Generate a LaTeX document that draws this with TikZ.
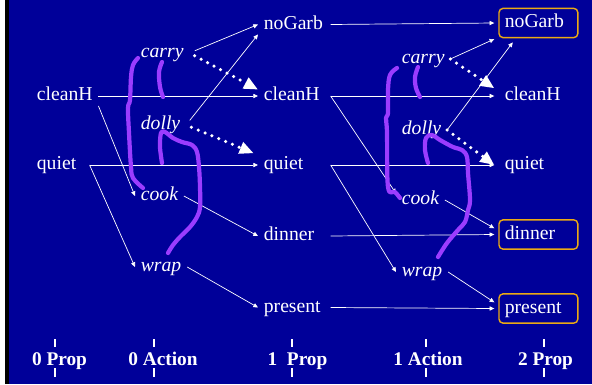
\documentclass[tikz,border=0pt]{standalone}
\usepackage{fontspec}
\setmainfont{Liberation Serif}
\newfontfamily\slidefont{Liberation Serif}
\usepackage{xcolor}
\usetikzlibrary{arrows.meta}
\definecolor{slidebg}{RGB}{0,0,153}
\definecolor{mutexpurple}{RGB}{155,60,255}
\definecolor{goalgold}{RGB}{235,170,20}

\begin{document}
\begin{tikzpicture}[x=0.03cm,y=-0.03cm,
  every node/.style={text=white,font={\slidefont\fontsize{16.8}{20}\selectfont},anchor=west,
    inner xsep=5pt,inner ysep=1pt,outer sep=0pt,text height=11.5pt,text depth=3.5pt},
  act/.style={font={\slidefont\fontsize{16.8}{20}\selectfont\itshape}},
  prop1/.style={text width=52pt,align=left},
  goal/.style={text width=57.3pt,align=left,inner ysep=5pt,outer sep=4pt,rounded corners=3.5pt},
  goalbox/.style={goal,draw=goalgold,line width=1.2pt},
  link/.style={draw=white,line width=0.6pt,-{Triangle[length=4pt,width=3.6pt]}},
  bump/.style={draw=white,line width=3pt,line cap=round,dash pattern=on 0pt off 6.3pt,
    -{Triangle[length=12pt,width=10pt]}},
  mutex/.style={draw=mutexpurple,line width=3.6pt,line cap=round,line join=round},
  level/.style={font={\slidefont\fontsize{16.5}{20}\selectfont\bfseries},anchor=base},
  tick/.style={draw=white,line width=1.7pt}]
\useasboundingbox (0,0) rectangle (592,384);
\fill[white] (0,0) rectangle (592,384);
\fill[black] (5,0) rectangle (9,384);
\fill[slidebg] (9,0) rectangle (592,384);

\node (cleanH0) at (31,96) {cleanH};
\node[text width=40pt,align=left] (quiet0) at (31,165) {quiet};
\node[act] (carry0) at (135,53) {carry};
\node[act] (dolly0) at (135,125) {dolly};
\node[act] (cook0) at (135,196) {cook};
\node[act] (wrap0) at (135,267) {wrap};
\node[prop1] (noGarb1) at (258,24.5) {noGarb};
\node[prop1] (cleanH1) at (258,96) {cleanH};
\node[prop1] (quiet1) at (258,165) {quiet};
\node[prop1] (dinner1) at (258,236) {dinner};
\node[prop1] (present1) at (258,307.5) {present};
\node[act] (carry1) at (396,59) {carry};
\node[act] (dolly1) at (396,130) {dolly};
\node[act] (cook1) at (396,200) {cook};
\node[act] (wrap1) at (396,272) {wrap};
\node[goalbox] (noGarb2) at (494.3,23) {noGarb};
\node[goal] (cleanH2) at (494.3,96) {cleanH};
\node[goal] (quiet2) at (494.3,165) {quiet};
\node[goalbox] (dinner2) at (494.3,234.5) {dinner};
\node[goalbox] (present2) at (494.3,308.5) {present};

\node[level] (lvl0p) at (59.5,365) {0 Prop};
\node[level] (lvl0a) at (163,365) {0 Action};
\node[level] (lvl1p) at (297.5,365) {1\ \ Prop};
\node[level] (lvl1a) at (428,365) {1 Action};
\node[level] (lvl2p) at (545.5,365) {2 Prop};
\foreach \x in {55,154.3,292,425.7,544} {
  \draw[tick] (\x,339) -- (\x,347);
  \draw[tick] (\x,368) -- (\x,377);
}

\draw[link] (cleanH0.east) -- (cleanH1.west);
\draw[link] (quiet0.east) -- (quiet1.west);
\draw[link] (cleanH0.south east) -- (cook0.west);
\draw[link] (quiet0.east) -- (wrap0.west);
\draw[link,shorten <=5pt] (carry0.east) -- (noGarb1.west);
\draw[link,shorten <=5pt] (dolly0.east) -- (noGarb1.south west);
\draw[link] (cook0.east) -- (dinner1.west);
\draw[link] (wrap0.east) -- (present1.west);
\draw[bump,shorten <=5pt] (carry0.east) -- (cleanH1.170);
\draw[bump,shorten <=5pt,shorten >=4pt] (dolly0.east) -- (quiet1.north west);

\draw[link] (noGarb1.east) -- (noGarb2.west);
\draw[link] (cleanH1.east) -- (cleanH2.west);
\draw[link] (quiet1.east) -- (quiet2.west);
\draw[link] (dinner1.east) -- (dinner2.west);
\draw[link] (present1.east) -- (present2.west);
\draw[link] (cleanH1.east) -- (cook1.165);
\draw[link] (quiet1.east) -- (wrap1.west);
\draw[link] (carry1.east) -- (noGarb2.200);
\draw[link] (dolly1.east) -- (noGarb2.217);
\draw[link] (cook1.east) -- (dinner2.172);
\draw[link] (wrap1.east) -- (present2.172);
\draw[bump] (carry1.east) -- (cleanH2.170);
\draw[bump] (dolly1.east) -- (quiet2.west);

\draw[mutex] plot[smooth,tension=0.6] coordinates {(138,58) (133,65) (131,77) (130,100) (128,108)
  (129,133) (131,167) (133,178) (143,188)};
\draw[mutex] plot[smooth,tension=0.6] coordinates {(162,62) (159,72) (160,87) (163,97)};
\draw[mutex] plot[smooth,tension=0.6] coordinates {(162,163) (160,147) (161,133) (165,132)
  (173,138) (182,142) (192,145) (197,152) (199,167) (200,187) (200,207) (197,217) (190,227)
  (180,237) (173,245) (168,253)};
\draw[mutex] plot[smooth,tension=0.6] coordinates {(397,68) (390,75) (388,90) (388,113) (386,118)
  (387,133) (388,187) (395,192) (400,198)};
\draw[mutex] plot[smooth,tension=0.6] coordinates {(418,67) (415,77) (416,88) (420,97)};
\draw[mutex] plot[smooth,tension=0.6] coordinates {(428,163) (425,150) (426,138) (432,135)
  (440,140) (453,147) (462,150) (467,157) (468,173) (470,200) (468,210) (465,222) (458,230)
  (447,243) (438,257)};
\end{tikzpicture}
\end{document}
